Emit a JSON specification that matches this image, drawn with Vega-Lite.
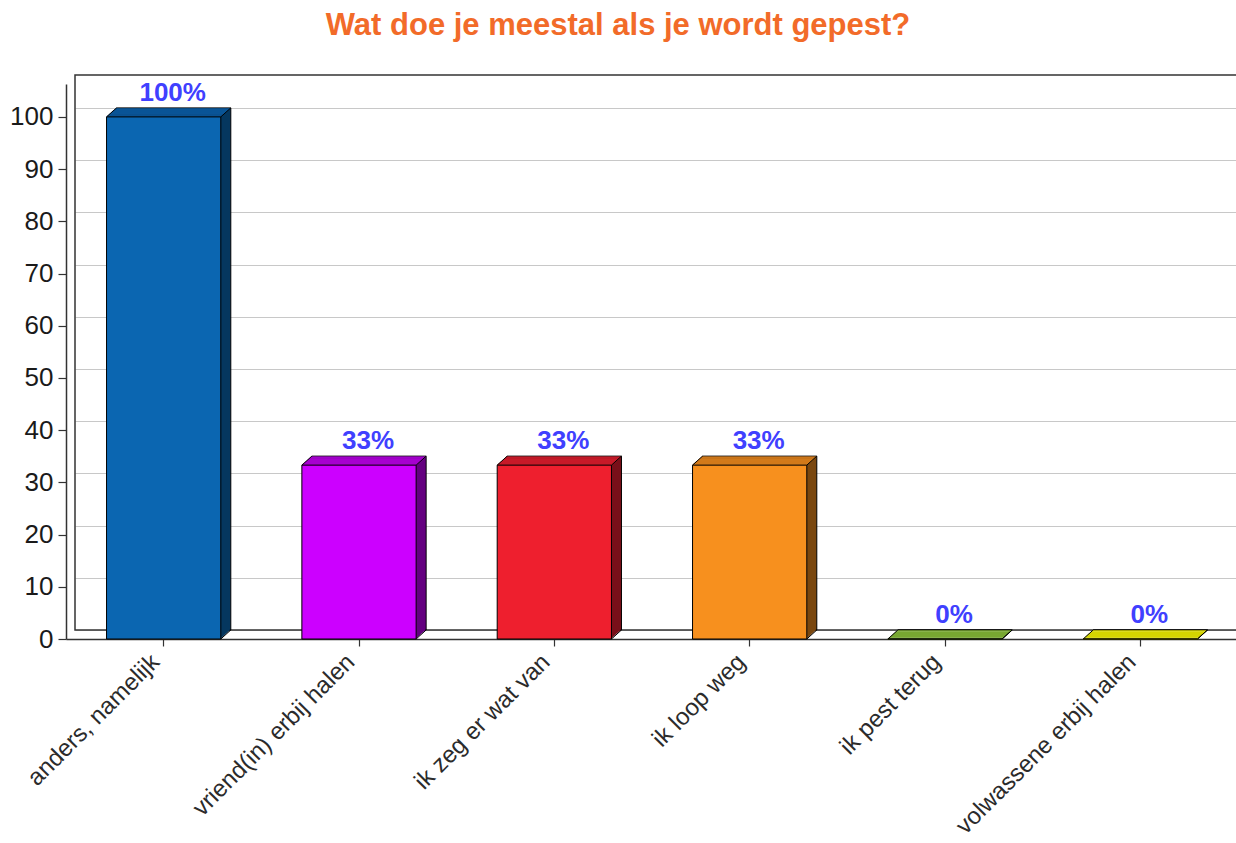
{
  "$schema": "https://vega.github.io/schema/vega-lite/v6.json",
  "width": 1172,
  "height": 555,
  "autosize": {"type": "none"},
  "padding": {"left": 75, "top": 75, "right": 0, "bottom": 213},
  "title": {
    "text": "Wat doe je meestal als je wordt gepest?",
    "font": "Liberation Sans",
    "fontSize": 31,
    "fontWeight": "bold",
    "color": "#f26b29",
    "anchor": "middle",
    "frame": "group",
    "baseline": "alphabetic",
    "offset": 8,
    "dx": -43
  },
  "config": {"view": {"stroke": null}, "font": "Liberation Sans"},
  "resolve": {"scale": {"color": "independent"}},
  "data": {
    "values": [
      {"cat": "anders, namelijk", "value": 100, "label": "100%"},
      {"cat": "vriend(in) erbij halen", "value": 33.3, "label": "33%"},
      {"cat": "ik zeg er wat van", "value": 33.3, "label": "33%"},
      {"cat": "ik loop weg", "value": 33.3, "label": "33%"},
      {"cat": "ik pest terug", "value": 0, "label": "0%"},
      {"cat": "volwassene erbij halen", "value": 0, "label": "0%"}
    ]
  },
  "encoding": {
    "y": {"field": "value", "type": "quantitative", "scale": {"domain": [0, 106.3], "nice": false, "zero": true}}
  },
  "layer": [
    {
      "transform": [{"filter": "datum.cat === 'anders, namelijk'"}],
      "mark": {"type": "rect", "fill": null, "stroke": "#333333", "strokeWidth": 1.5},
      "encoding": {
        "y": {"datum": 0, "type": "quantitative"},
        "y2": {"datum": 106.3}
      }
    },
    {"mark": {"type": "bar", "xOffset": 1, "yOffset": 0, "y2Offset": 0, "stroke": "#000000", "strokeWidth": 1},
     "encoding": {"x": {"field": "cat", "type": "nominal", "sort": ["anders, namelijk", "vriend(in) erbij halen", "ik zeg er wat van", "ik loop weg", "ik pest terug", "volwassene erbij halen"]},
                  "color": {"field": "cat", "type": "nominal", "legend": null, "scale": {"domain": ["anders, namelijk", "vriend(in) erbij halen", "ik zeg er wat van", "ik loop weg", "ik pest terug", "volwassene erbij halen"], "range": ["#06375f", "#650080", "#78101a", "#7b480f", "#3f5a1a", "#6e6e00"]}}}},
    {"mark": {"type": "bar", "xOffset": 0, "yOffset": 0.9, "y2Offset": 0.9},
     "encoding": {"x": {"field": "cat", "type": "nominal", "sort": ["anders, namelijk", "vriend(in) erbij halen", "ik zeg er wat van", "ik loop weg", "ik pest terug", "volwassene erbij halen"]},
                  "color": {"field": "cat", "type": "nominal", "legend": null, "scale": {"domain": ["anders, namelijk", "vriend(in) erbij halen", "ik zeg er wat van", "ik loop weg", "ik pest terug", "volwassene erbij halen"], "range": ["#06375f", "#650080", "#78101a", "#7b480f", "#3f5a1a", "#6e6e00"]}}}},
    {"mark": {"type": "bar", "xOffset": -1, "yOffset": 1.8, "y2Offset": 1.8},
     "encoding": {"x": {"field": "cat", "type": "nominal", "sort": ["anders, namelijk", "vriend(in) erbij halen", "ik zeg er wat van", "ik loop weg", "ik pest terug", "volwassene erbij halen"]},
                  "color": {"field": "cat", "type": "nominal", "legend": null, "scale": {"domain": ["anders, namelijk", "vriend(in) erbij halen", "ik zeg er wat van", "ik loop weg", "ik pest terug", "volwassene erbij halen"], "range": ["#06375f", "#650080", "#78101a", "#7b480f", "#3f5a1a", "#6e6e00"]}}}},
    {"mark": {"type": "bar", "xOffset": -2, "yOffset": 2.7, "y2Offset": 2.7},
     "encoding": {"x": {"field": "cat", "type": "nominal", "sort": ["anders, namelijk", "vriend(in) erbij halen", "ik zeg er wat van", "ik loop weg", "ik pest terug", "volwassene erbij halen"]},
                  "color": {"field": "cat", "type": "nominal", "legend": null, "scale": {"domain": ["anders, namelijk", "vriend(in) erbij halen", "ik zeg er wat van", "ik loop weg", "ik pest terug", "volwassene erbij halen"], "range": ["#06375f", "#650080", "#78101a", "#7b480f", "#3f5a1a", "#6e6e00"]}}}},
    {"mark": {"type": "bar", "xOffset": -3, "yOffset": 3.6, "y2Offset": 3.6},
     "encoding": {"x": {"field": "cat", "type": "nominal", "sort": ["anders, namelijk", "vriend(in) erbij halen", "ik zeg er wat van", "ik loop weg", "ik pest terug", "volwassene erbij halen"]},
                  "color": {"field": "cat", "type": "nominal", "legend": null, "scale": {"domain": ["anders, namelijk", "vriend(in) erbij halen", "ik zeg er wat van", "ik loop weg", "ik pest terug", "volwassene erbij halen"], "range": ["#06375f", "#650080", "#78101a", "#7b480f", "#3f5a1a", "#6e6e00"]}}}},
    {"mark": {"type": "bar", "xOffset": -4, "yOffset": 4.5, "y2Offset": 4.5},
     "encoding": {"x": {"field": "cat", "type": "nominal", "sort": ["anders, namelijk", "vriend(in) erbij halen", "ik zeg er wat van", "ik loop weg", "ik pest terug", "volwassene erbij halen"]},
                  "color": {"field": "cat", "type": "nominal", "legend": null, "scale": {"domain": ["anders, namelijk", "vriend(in) erbij halen", "ik zeg er wat van", "ik loop weg", "ik pest terug", "volwassene erbij halen"], "range": ["#06375f", "#650080", "#78101a", "#7b480f", "#3f5a1a", "#6e6e00"]}}}},
    {"mark": {"type": "bar", "xOffset": -5, "yOffset": 5.4, "y2Offset": 5.4},
     "encoding": {"x": {"field": "cat", "type": "nominal", "sort": ["anders, namelijk", "vriend(in) erbij halen", "ik zeg er wat van", "ik loop weg", "ik pest terug", "volwassene erbij halen"]},
                  "color": {"field": "cat", "type": "nominal", "legend": null, "scale": {"domain": ["anders, namelijk", "vriend(in) erbij halen", "ik zeg er wat van", "ik loop weg", "ik pest terug", "volwassene erbij halen"], "range": ["#06375f", "#650080", "#78101a", "#7b480f", "#3f5a1a", "#6e6e00"]}}}},
    {"mark": {"type": "bar", "xOffset": -6, "yOffset": 6.3, "y2Offset": 6.3},
     "encoding": {"x": {"field": "cat", "type": "nominal", "sort": ["anders, namelijk", "vriend(in) erbij halen", "ik zeg er wat van", "ik loop weg", "ik pest terug", "volwassene erbij halen"]},
                  "color": {"field": "cat", "type": "nominal", "legend": null, "scale": {"domain": ["anders, namelijk", "vriend(in) erbij halen", "ik zeg er wat van", "ik loop weg", "ik pest terug", "volwassene erbij halen"], "range": ["#06375f", "#650080", "#78101a", "#7b480f", "#3f5a1a", "#6e6e00"]}}}},
    {"mark": {"type": "bar", "xOffset": -7, "yOffset": 7.2, "y2Offset": 7.2},
     "encoding": {"x": {"field": "cat", "type": "nominal", "sort": ["anders, namelijk", "vriend(in) erbij halen", "ik zeg er wat van", "ik loop weg", "ik pest terug", "volwassene erbij halen"]},
                  "color": {"field": "cat", "type": "nominal", "legend": null, "scale": {"domain": ["anders, namelijk", "vriend(in) erbij halen", "ik zeg er wat van", "ik loop weg", "ik pest terug", "volwassene erbij halen"], "range": ["#06375f", "#650080", "#78101a", "#7b480f", "#3f5a1a", "#6e6e00"]}}}},
    {"mark": {"type": "bar", "xOffset": -8, "yOffset": 8.1, "y2Offset": 8.1},
     "encoding": {"x": {"field": "cat", "type": "nominal", "sort": ["anders, namelijk", "vriend(in) erbij halen", "ik zeg er wat van", "ik loop weg", "ik pest terug", "volwassene erbij halen"]},
                  "color": {"field": "cat", "type": "nominal", "legend": null, "scale": {"domain": ["anders, namelijk", "vriend(in) erbij halen", "ik zeg er wat van", "ik loop weg", "ik pest terug", "volwassene erbij halen"], "range": ["#06375f", "#650080", "#78101a", "#7b480f", "#3f5a1a", "#6e6e00"]}}}},
    {"mark": {"type": "tick", "size": 114.3, "thickness": 1.3, "opacity": 1, "xOffset": 0, "yOffset": 0.9},
     "encoding": {"x": {"field": "cat", "type": "nominal", "sort": ["anders, namelijk", "vriend(in) erbij halen", "ik zeg er wat van", "ik loop weg", "ik pest terug", "volwassene erbij halen"]},
                  "color": {"field": "cat", "type": "nominal", "legend": null, "scale": {"domain": ["anders, namelijk", "vriend(in) erbij halen", "ik zeg er wat van", "ik loop weg", "ik pest terug", "volwassene erbij halen"], "range": ["#0a5596", "#a600cf", "#c71a28", "#d27a1a", "#78a832", "#d4d400"]}}}},
    {"mark": {"type": "tick", "size": 114.3, "thickness": 1.3, "opacity": 1, "xOffset": -1, "yOffset": 1.8},
     "encoding": {"x": {"field": "cat", "type": "nominal", "sort": ["anders, namelijk", "vriend(in) erbij halen", "ik zeg er wat van", "ik loop weg", "ik pest terug", "volwassene erbij halen"]},
                  "color": {"field": "cat", "type": "nominal", "legend": null, "scale": {"domain": ["anders, namelijk", "vriend(in) erbij halen", "ik zeg er wat van", "ik loop weg", "ik pest terug", "volwassene erbij halen"], "range": ["#0a5596", "#a600cf", "#c71a28", "#d27a1a", "#78a832", "#d4d400"]}}}},
    {"mark": {"type": "tick", "size": 114.3, "thickness": 1.3, "opacity": 1, "xOffset": -2, "yOffset": 2.7},
     "encoding": {"x": {"field": "cat", "type": "nominal", "sort": ["anders, namelijk", "vriend(in) erbij halen", "ik zeg er wat van", "ik loop weg", "ik pest terug", "volwassene erbij halen"]},
                  "color": {"field": "cat", "type": "nominal", "legend": null, "scale": {"domain": ["anders, namelijk", "vriend(in) erbij halen", "ik zeg er wat van", "ik loop weg", "ik pest terug", "volwassene erbij halen"], "range": ["#0a5596", "#a600cf", "#c71a28", "#d27a1a", "#78a832", "#d4d400"]}}}},
    {"mark": {"type": "tick", "size": 114.3, "thickness": 1.3, "opacity": 1, "xOffset": -3, "yOffset": 3.6},
     "encoding": {"x": {"field": "cat", "type": "nominal", "sort": ["anders, namelijk", "vriend(in) erbij halen", "ik zeg er wat van", "ik loop weg", "ik pest terug", "volwassene erbij halen"]},
                  "color": {"field": "cat", "type": "nominal", "legend": null, "scale": {"domain": ["anders, namelijk", "vriend(in) erbij halen", "ik zeg er wat van", "ik loop weg", "ik pest terug", "volwassene erbij halen"], "range": ["#0a5596", "#a600cf", "#c71a28", "#d27a1a", "#78a832", "#d4d400"]}}}},
    {"mark": {"type": "tick", "size": 114.3, "thickness": 1.3, "opacity": 1, "xOffset": -4, "yOffset": 4.5},
     "encoding": {"x": {"field": "cat", "type": "nominal", "sort": ["anders, namelijk", "vriend(in) erbij halen", "ik zeg er wat van", "ik loop weg", "ik pest terug", "volwassene erbij halen"]},
                  "color": {"field": "cat", "type": "nominal", "legend": null, "scale": {"domain": ["anders, namelijk", "vriend(in) erbij halen", "ik zeg er wat van", "ik loop weg", "ik pest terug", "volwassene erbij halen"], "range": ["#0a5596", "#a600cf", "#c71a28", "#d27a1a", "#78a832", "#d4d400"]}}}},
    {"mark": {"type": "tick", "size": 114.3, "thickness": 1.3, "opacity": 1, "xOffset": -5, "yOffset": 5.4},
     "encoding": {"x": {"field": "cat", "type": "nominal", "sort": ["anders, namelijk", "vriend(in) erbij halen", "ik zeg er wat van", "ik loop weg", "ik pest terug", "volwassene erbij halen"]},
                  "color": {"field": "cat", "type": "nominal", "legend": null, "scale": {"domain": ["anders, namelijk", "vriend(in) erbij halen", "ik zeg er wat van", "ik loop weg", "ik pest terug", "volwassene erbij halen"], "range": ["#0a5596", "#a600cf", "#c71a28", "#d27a1a", "#78a832", "#d4d400"]}}}},
    {"mark": {"type": "tick", "size": 114.3, "thickness": 1.3, "opacity": 1, "xOffset": -6, "yOffset": 6.3},
     "encoding": {"x": {"field": "cat", "type": "nominal", "sort": ["anders, namelijk", "vriend(in) erbij halen", "ik zeg er wat van", "ik loop weg", "ik pest terug", "volwassene erbij halen"]},
                  "color": {"field": "cat", "type": "nominal", "legend": null, "scale": {"domain": ["anders, namelijk", "vriend(in) erbij halen", "ik zeg er wat van", "ik loop weg", "ik pest terug", "volwassene erbij halen"], "range": ["#0a5596", "#a600cf", "#c71a28", "#d27a1a", "#78a832", "#d4d400"]}}}},
    {"mark": {"type": "tick", "size": 114.3, "thickness": 1.3, "opacity": 1, "xOffset": -7, "yOffset": 7.2},
     "encoding": {"x": {"field": "cat", "type": "nominal", "sort": ["anders, namelijk", "vriend(in) erbij halen", "ik zeg er wat van", "ik loop weg", "ik pest terug", "volwassene erbij halen"]},
                  "color": {"field": "cat", "type": "nominal", "legend": null, "scale": {"domain": ["anders, namelijk", "vriend(in) erbij halen", "ik zeg er wat van", "ik loop weg", "ik pest terug", "volwassene erbij halen"], "range": ["#0a5596", "#a600cf", "#c71a28", "#d27a1a", "#78a832", "#d4d400"]}}}},
    {"mark": {"type": "tick", "size": 114.3, "thickness": 1.3, "opacity": 1, "xOffset": -8, "yOffset": 8.1},
     "encoding": {"x": {"field": "cat", "type": "nominal", "sort": ["anders, namelijk", "vriend(in) erbij halen", "ik zeg er wat van", "ik loop weg", "ik pest terug", "volwassene erbij halen"]},
                  "color": {"field": "cat", "type": "nominal", "legend": null, "scale": {"domain": ["anders, namelijk", "vriend(in) erbij halen", "ik zeg er wat van", "ik loop weg", "ik pest terug", "volwassene erbij halen"], "range": ["#0a5596", "#a600cf", "#c71a28", "#d27a1a", "#78a832", "#d4d400"]}}}},
    {"mark": {"type": "tick", "size": 114.3, "thickness": 1.3, "opacity": 1, "xOffset": -9, "yOffset": 9},
     "encoding": {"x": {"field": "cat", "type": "nominal", "sort": ["anders, namelijk", "vriend(in) erbij halen", "ik zeg er wat van", "ik loop weg", "ik pest terug", "volwassene erbij halen"]},
                  "color": {"field": "cat", "type": "nominal", "legend": null, "scale": {"domain": ["anders, namelijk", "vriend(in) erbij halen", "ik zeg er wat van", "ik loop weg", "ik pest terug", "volwassene erbij halen"], "range": ["#0a5596", "#a600cf", "#c71a28", "#d27a1a", "#78a832", "#d4d400"]}}}},
    {"mark": {"type": "bar", "stroke": "#000000", "strokeWidth": 1, "xOffset": -9, "yOffset": 9, "y2Offset": 9},
     "encoding": {
       "x": {
         "field": "cat", "type": "nominal",
         "sort": ["anders, namelijk", "vriend(in) erbij halen", "ik zeg er wat van", "ik loop weg", "ik pest terug", "volwassene erbij halen"],
         "scale": {"paddingInner": 0.415, "paddingOuter": 0.2075},
         "axis": {"orient": "bottom", "title": null, "position": -9, "offset": 9,
           "domain": true, "domainColor": "#333333", "domainWidth": 1.5,
           "ticks": true, "tickSize": 7, "tickColor": "#333333", "tickWidth": 1.2,
           "labelAngle": -45, "labelAlign": "right", "labelBaseline": "middle", "labelPadding": 12, "labelOffset": -8,
           "labelFont": "Liberation Sans", "labelFontSize": 24, "labelColor": "#2b2b2b", "labelLimit": 400}
       },
       "y": {
         "field": "value", "type": "quantitative",
         "scale": {"domain": [0, 106.3], "nice": false, "zero": true},
         "axis": {"orient": "left", "title": null, "position": 9, "offset": 9,
           "grid": true, "gridColor": "#c8c8c8", "gridWidth": 1.2,
           "values": [0, 10, 20, 30, 40, 50, 60, 70, 80, 90, 100],
           "domain": true, "domainColor": "#333333", "domainWidth": 1.5,
           "ticks": true, "tickSize": 8, "tickColor": "#333333", "tickWidth": 1.2,
           "labelFont": "Liberation Sans", "labelFontSize": 26, "labelColor": "#1a1a1a", "labelPadding": 5}
       },
       "color": {"field": "cat", "type": "nominal", "legend": null, "scale": {"domain": ["anders, namelijk", "vriend(in) erbij halen", "ik zeg er wat van", "ik loop weg", "ik pest terug", "volwassene erbij halen"], "range": ["#0b66b1", "#cc00ff", "#ee1f2e", "#f7901e", "#7fb236", "#dcdc00"]}}
     }},
    {"mark": {"type": "point", "shape": "M-1,0.9L1,-0.9", "size": 100, "filled": false, "stroke": "#000000", "strokeWidth": 1, "opacity": 1, "xOffset": -4, "yOffset": 4.5},
     "encoding": {"x": {"field": "cat", "type": "nominal", "bandPosition": 0, "sort": ["anders, namelijk", "vriend(in) erbij halen", "ik zeg er wat van", "ik loop weg", "ik pest terug", "volwassene erbij halen"]}}},
    {"mark": {"type": "point", "shape": "M-1,0.9L1,-0.9", "size": 100, "filled": false, "stroke": "#000000", "strokeWidth": 1, "opacity": 1, "xOffset": -4, "yOffset": 4.5},
     "encoding": {"x": {"field": "cat", "type": "nominal", "bandPosition": 1, "sort": ["anders, namelijk", "vriend(in) erbij halen", "ik zeg er wat van", "ik loop weg", "ik pest terug", "volwassene erbij halen"]}}},
    {"mark": {"type": "point", "shape": "M-1,0.9L1,-0.9", "size": 100, "filled": false, "stroke": "#000000", "strokeWidth": 1, "opacity": 1, "xOffset": -4, "yOffset": 4.5},
     "encoding": {"x": {"field": "cat", "type": "nominal", "bandPosition": 1, "sort": ["anders, namelijk", "vriend(in) erbij halen", "ik zeg er wat van", "ik loop weg", "ik pest terug", "volwassene erbij halen"]},
                  "y": {"datum": 0, "type": "quantitative"}}},
    {"mark": {"type": "text", "font": "Liberation Sans", "fontWeight": "bold", "fontSize": 26, "color": "#4040ff", "baseline": "alphabetic", "align": "center", "xOffset": 0, "yOffset": -7},
     "encoding": {"x": {"field": "cat", "type": "nominal", "sort": ["anders, namelijk", "vriend(in) erbij halen", "ik zeg er wat van", "ik loop weg", "ik pest terug", "volwassene erbij halen"]},
                  "text": {"field": "label", "type": "nominal"}}}
  ]
}
